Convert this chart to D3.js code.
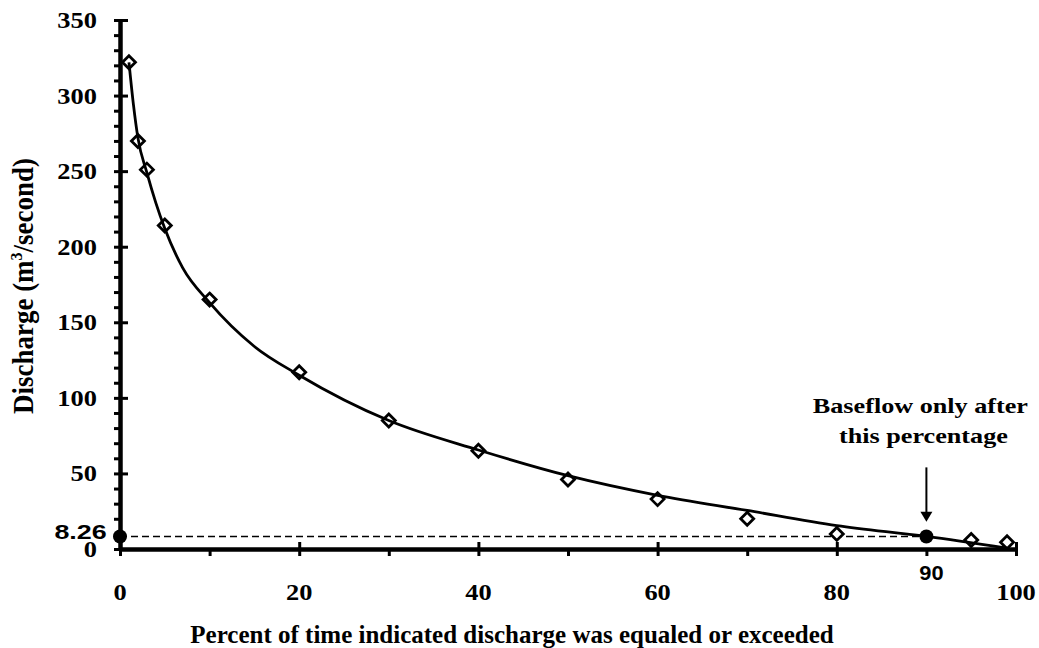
<!DOCTYPE html>
<html>
<head>
<meta charset="utf-8">
<script src="https://cdn.jsdelivr.net/npm/d3@7"></script>
<style>
  html, body { margin: 0; padding: 0; background: #ffffff; }
  svg { display: block; }
</style>
</head>
<body>
<script>
// ---- data ----
const pct = [1, 2, 3, 5, 10, 20, 30, 40, 50, 60, 70, 80, 95, 99];
const discharge = [322, 270, 251, 214, 165, 117, 85, 65, 46, 33, 20, 10, 6, 4.4];
// fitted (trend) curve
const fitPct = [1, 1.5, 2, 3, 4, 5, 7, 10, 15, 20, 30, 40, 50, 60, 70, 80, 90, 99];
const fitDischarge = [322, 294, 272, 249, 229, 212, 186, 163, 134, 115, 85, 65.5, 48.5, 35.5, 25.5, 15.5, 8.3, 0.5];
const baseflowPct = 90;
const baseflowValue = 8.26;
const xTicks = [0, 20, 40, 60, 80, 100];
const xMinorTicks = [10, 30, 50, 70, 90];
const yTicks = [0, 50, 100, 150, 200, 250, 300, 350];
const yMinorTicks = [10,20,30,40,60,70,80,90,110,120,130,140,160,170,180,190,210,220,230,240,260,270,280,290,310,320,330,340];
const xTitle = "Percent of time indicated discharge was equaled or exceeded";
const yTitleMain = "Discharge (m";
const yTitleSup = "3";
const yTitleEnd = "/second)";
const noteLines = ["Baseflow only after", "this percentage"];
const arrowFrom = 54, arrowTo = 18;

// ---- drawing ----
const W = 1039, H = 648;
const svg = d3.select("body").append("svg").attr("width", W).attr("height", H);
svg.append("rect").attr("width", W).attr("height", H).attr("fill", "#fff");

const x = d3.scaleLinear().domain([0, 100]).range([120, 1016]);
const y = d3.scaleLinear().domain([0, 350]).range([549, 20]);

const SERIF = "'Liberation Serif', 'Times New Roman', serif";
const SANS = "'Liberation Sans', Arial, sans-serif";

function stretchedText(parent, px, py, str, opt) {
  const g = parent.append("g")
    .attr("transform", `translate(${px},${py}) scale(${opt.sx || 1},1)` + (opt.rotate ? ` rotate(${opt.rotate})` : ""));
  const t = g.append("text")
    .attr("text-anchor", opt.anchor || "middle")
    .attr("font-family", opt.family || SERIF)
    .attr("font-weight", "bold")
    .attr("font-size", opt.size)
    .attr("fill", "#000")
    .text(str);
  return t;
}

// axes styling helper
function styleAxis(g, width) {
  g.selectAll(".tick line").attr("stroke", "#000").attr("stroke-width", 3);
  g.selectAll(".tick text").remove();
}

// Y axis: minor ticks (outside)
svg.append("g").attr("transform", "translate(120,0)")
  .call(d3.axisLeft(y).tickValues(yMinorTicks).tickSize(6).tickSizeOuter(0).tickFormat(""))
  .call(g => { g.select(".domain").remove(); styleAxis(g); });
// Y axis: major ticks inside part
svg.append("g").attr("transform", "translate(120,0)")
  .call(d3.axisRight(y).tickValues(yTicks).tickSize(8).tickSizeOuter(0).tickFormat(""))
  .call(g => { g.select(".domain").remove(); styleAxis(g); });
// Y axis: major ticks outside + domain
svg.append("g").attr("transform", "translate(120,0)")
  .call(d3.axisLeft(y).tickValues(yTicks).tickSize(6).tickSizeOuter(0).tickFormat(""))
  .call(g => { g.select(".domain").attr("stroke", "#000").attr("stroke-width", 4.5); styleAxis(g); });

// X axis: minor ticks (outside)
svg.append("g").attr("transform", "translate(0,549)")
  .call(d3.axisBottom(x).tickValues(xMinorTicks).tickSize(7).tickSizeOuter(0).tickFormat(""))
  .call(g => { g.select(".domain").remove(); styleAxis(g); });
// X axis: major ticks inside part
svg.append("g").attr("transform", "translate(0,549)")
  .call(d3.axisTop(x).tickValues(xTicks.filter(v => v > 0)).tickSize(7).tickSizeOuter(0).tickFormat(""))
  .call(g => { g.select(".domain").remove(); styleAxis(g); });
// X axis: major ticks outside + domain
svg.append("g").attr("transform", "translate(0,549)")
  .call(d3.axisBottom(x).tickValues(xTicks).tickSize(7).tickSizeOuter(0).tickFormat(""))
  .call(g => { g.select(".domain").attr("stroke", "#000").attr("stroke-width", 4.5); styleAxis(g); });

// tick labels
yTicks.forEach(v => {
  stretchedText(svg, 97, y(v) + 8, String(v), { size: 23, sx: 1.15, anchor: "end" });
});
xTicks.forEach(v => {
  stretchedText(svg, x(v), 600, String(v), { size: 23, sx: 1.15, anchor: "middle" });
});

// axis titles
stretchedText(svg, 512, 643, xTitle, { size: 25, sx: 1.0, anchor: "middle" });
{
  const t = stretchedText(svg, 33, 286, "", { size: 27, sx: 1.1, anchor: "middle", rotate: -90 });
  t.append("tspan").text(yTitleMain);
  t.append("tspan").attr("font-size", 16).attr("dy", -10).text(yTitleSup);
  t.append("tspan").attr("dy", 10).text(yTitleEnd);
}

// dashed baseflow line
svg.append("line")
  .attr("x1", x(0)).attr("x2", x(baseflowPct))
  .attr("y1", y(baseflowValue)).attr("y2", y(baseflowValue))
  .attr("stroke", "#000").attr("stroke-width", 1.6).attr("stroke-dasharray", "7,4");

// diamonds (data points)
const r = 6.5;
svg.append("g").selectAll("path").data(pct.map((p, i) => [p, discharge[i]]))
  .join("path")
  .attr("transform", d => `translate(${x(d[0])},${y(d[1])})`)
  .attr("d", `M0,${-r}L${r},0L0,${r}L${-r},0Z`)
  .attr("fill", "#fff").attr("stroke", "#000").attr("stroke-width", 2.8)
  .attr("stroke-linejoin", "miter");

// fitted curve
const line = d3.line().x(d => x(d[0])).y(d => y(d[1])).curve(d3.curveMonotoneX);
svg.append("path")
  .datum(fitPct.map((p, i) => [p, fitDischarge[i]]))
  .attr("d", line)
  .attr("fill", "none").attr("stroke", "#000").attr("stroke-width", 2.8);

// black dots
svg.append("g").selectAll("circle").data([[0, baseflowValue], [baseflowPct, baseflowValue]])
  .join("circle")
  .attr("cx", d => x(d[0])).attr("cy", d => y(d[1])).attr("r", 7).attr("fill", "#000");

// value labels
stretchedText(svg, 106.7, 539.3, String(baseflowValue), { size: 21, sx: 1.28, anchor: "end", family: SANS });
stretchedText(svg, x(baseflowPct) + 5, 580, String(baseflowPct), { size: 21, sx: 1.04, anchor: "middle", family: SANS });

// annotation text
stretchedText(svg, x(baseflowPct) - 6, 413.3, noteLines[0], { size: 22, sx: 1.19, anchor: "middle" });
stretchedText(svg, x(baseflowPct) - 3, 443.3, noteLines[1], { size: 22, sx: 1.19, anchor: "middle" });

// arrow
const ax = x(baseflowPct);
const headLen = 10;
svg.append("line")
  .attr("x1", ax).attr("x2", ax)
  .attr("y1", y(arrowFrom)).attr("y2", y(arrowTo) - headLen + 1)
  .attr("stroke", "#000").attr("stroke-width", 2);
svg.append("path")
  .attr("d", `M${ax},${y(arrowTo)}L${ax - 6},${y(arrowTo) - headLen}L${ax + 6},${y(arrowTo) - headLen}Z`)
  .attr("fill", "#000");
</script>
</body>
</html>
